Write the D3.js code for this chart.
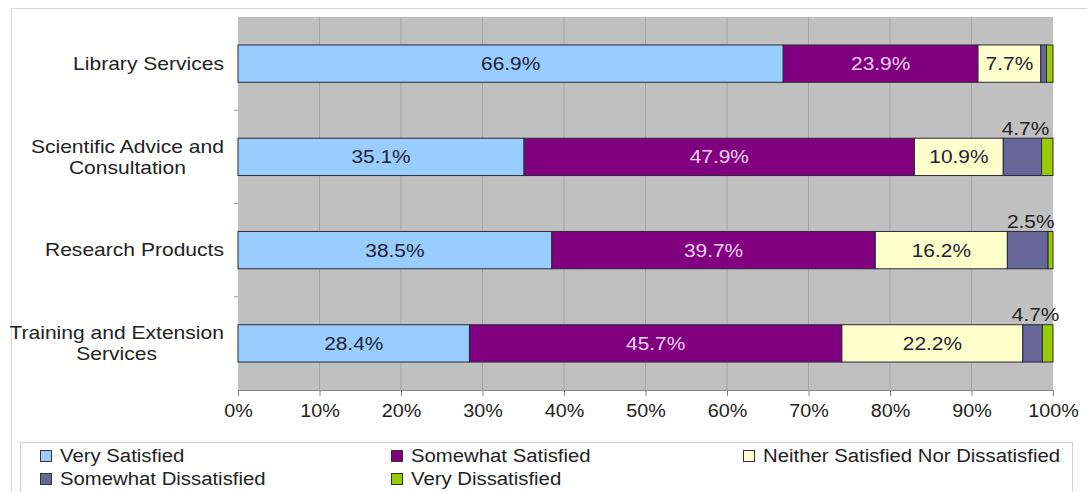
<!DOCTYPE html>
<html>
<head>
<meta charset="utf-8">
<script src="https://cdn.jsdelivr.net/npm/d3@7"></script>
<style>
  body { margin: 0; background: #fff; }
  text { font-family: "Liberation Sans", Arial, sans-serif; }
</style>
</head>
<body>
<div id="vis"></div>
<script>
const width = 1087;
const height = 492;

const categories = [
  ["Library Services"],
  ["Scientific Advice and", "Consultation"],
  ["Research Products"],
  ["Training and Extension", "Services"]
];
const seriesNames = ["Very Satisfied", "Somewhat Satisfied", "Neither Satisfied Nor Dissatisfied",
  "Somewhat Dissatisfied", "Very Dissatisfied"];
const seriesColors = ["#99ccff", "#800080", "#ffffcc", "#666699", "#99cc00"];
const verySatisfied = [66.9, 35.1, 38.5, 28.4];
const somewhatSatisfied = [23.9, 47.9, 39.7, 45.7];
const neither = [7.7, 10.9, 16.2, 22.2];
const somewhatDissatisfied = [0.7, 4.7, 5.0, 2.4];
const veryDissatisfied = [0.8, 1.4, 0.6, 1.3];
// labels printed above the small "somewhat dissatisfied" segments
const dissatLabels = [null, "4.7%", "2.5%", "4.7%"];
const xTicks = [0, 10, 20, 30, 40, 50, 60, 70, 80, 90, 100];

const sx = 1.13; // the source text is a bit wide
const fontSize = 18;

const svg = d3.select("#vis")
  .append("svg")
  .attr("width", width)
  .attr("height", height);

// outer frame
svg.append("rect")
  .attr("x", 11.5).attr("y", 8.5)
  .attr("width", 1090).attr("height", 500)
  .attr("fill", "none")
  .attr("stroke", "#d6d6d6");

const plot = { left: 238, right: 1053, top: 17, bottom: 390 };

const x = d3.scaleLinear().domain([0, 100]).range([plot.left, plot.right]);
const y = d3.scaleBand()
  .domain(d3.range(categories.length))
  .range([plot.top, plot.bottom])
  .paddingInner(0.6)
  .paddingOuter(0.3);
const yOuter = d3.scaleBand()
  .domain(d3.range(categories.length))
  .range([plot.top, plot.bottom]);

svg.append("rect")
  .attr("x", plot.left).attr("y", plot.top)
  .attr("width", plot.right - plot.left)
  .attr("height", plot.bottom - plot.top)
  .attr("fill", "#c0c0c0");

// gridlines
svg.append("g")
  .selectAll("line")
  .data(xTicks.slice(1, -1))
  .enter()
  .append("line")
  .attr("x1", d => x(d)).attr("x2", d => x(d))
  .attr("y1", plot.top).attr("y2", plot.bottom)
  .attr("stroke", "#a4a4a4")
  .attr("stroke-width", 1);

// x axis
const xAxis = svg.append("g")
  .attr("transform", `translate(0,${plot.bottom})`)
  .call(d3.axisBottom(x).tickValues(xTicks).tickSize(6).tickSizeOuter(0).tickFormat(d => d + "%"));
xAxis.select(".domain").attr("stroke", "#888");
xAxis.selectAll(".tick line").attr("stroke", "#888");
xAxis.selectAll(".tick text")
  .attr("font-size", fontSize - 0.5)
  .attr("fill", "#222")
  .attr("y", 0)
  .attr("dy", 0)
  .attr("transform", `translate(0,27) scale(${sx},1)`);

// y axis category separators
svg.append("g")
  .selectAll("line")
  .data(d3.range(1, categories.length))
  .enter()
  .append("line")
  .attr("x1", plot.left - 4).attr("x2", plot.left)
  .attr("y1", d => yOuter(d)).attr("y2", d => yOuter(d))
  .attr("stroke", "#999");

// stacked bars
const rows = categories.map((c, i) => [verySatisfied[i], somewhatSatisfied[i], neither[i],
  somewhatDissatisfied[i], veryDissatisfied[i]]);

rows.forEach((vals, i) => {
  let acc = 0;
  const g = svg.append("g");
  vals.forEach((v, k) => {
    g.append("rect")
      .attr("x", x(acc))
      .attr("y", y(i))
      .attr("width", x(acc + v) - x(acc))
      .attr("height", y.bandwidth())
      .attr("fill", seriesColors[k])
      .attr("stroke", "#2a2a3a")
      .attr("stroke-width", 1);
    if (k < 3) {
      g.append("text")
        .attr("transform", `translate(${x(acc + v / 2)},${y(i) + y.bandwidth() / 2}) scale(${sx},1)`)
        .attr("text-anchor", "middle")
        .attr("dy", "0.35em")
        .attr("font-size", fontSize + 0.5)
        .attr("fill", k === 1 ? "#f6d2f6" : "#1e2233")
        .text(v.toFixed(1) + "%");
    }
    if (k === 3 && dissatLabels[i]) {
      g.append("text")
        .attr("transform", `translate(${x(acc + v / 2) + 3},${y(i) - 10}) scale(${sx},1)`)
        .attr("text-anchor", "middle")
        .attr("dy", "0.35em")
        .attr("font-size", fontSize + 0.5)
        .attr("fill", "#222")
        .text(dissatLabels[i]);
    }
    acc += v;
  });
});

// category labels, lines centred, block right aligned
const catScale = 1.17;
categories.forEach((lines, i) => {
  const g = svg.append("g");
  const yc = y(i) + y.bandwidth() / 2;
  const lh = 21;
  lines.forEach((t, j) => {
    g.append("text")
      .attr("x", 0)
      .attr("y", (j - (lines.length - 1) / 2) * lh)
      .attr("dy", "0.35em")
      .attr("text-anchor", "middle")
      .attr("font-size", fontSize)
      .attr("fill", "#222")
      .text(t);
  });
  const w = g.node().getBBox().width;
  g.attr("transform", `translate(${224 - catScale * w / 2},${yc}) scale(${catScale},1)`);
});

// legend
svg.append("rect")
  .attr("x", 20.5).attr("y", 442.5)
  .attr("width", 1052).attr("height", 60)
  .attr("fill", "none")
  .attr("stroke", "#d0d0d0");

const legendX = [40, 391, 743];
const legendY = [456, 479];
seriesNames.forEach((name, k) => {
  const col = k % 3, row = Math.floor(k / 3);
  svg.append("rect")
    .attr("x", legendX[col] + 0.5)
    .attr("y", legendY[row] - 5.5)
    .attr("width", 11).attr("height", 11)
    .attr("fill", seriesColors[k])
    .attr("stroke", "#333");
  svg.append("text")
    .attr("transform", `translate(${legendX[col] + 20},${legendY[row]}) scale(${sx},1)`)
    .attr("dy", "0.35em")
    .attr("font-size", fontSize)
    .attr("fill", "#222")
    .text(name);
});
</script>
</body>
</html>
